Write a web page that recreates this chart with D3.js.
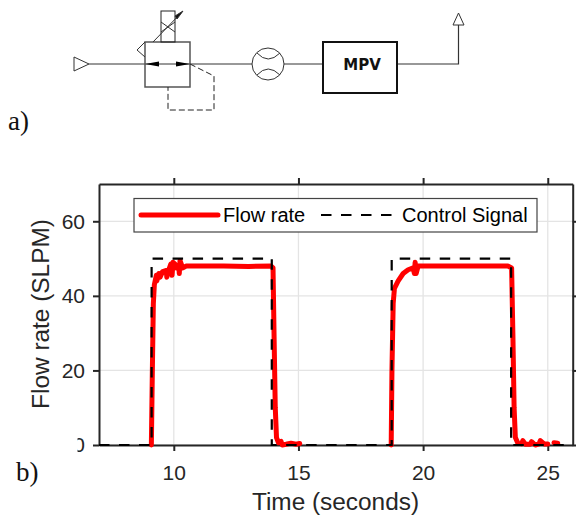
<!DOCTYPE html>
<html>
<head>
<meta charset="utf-8">
<script src="https://cdn.jsdelivr.net/npm/d3@7/dist/d3.min.js"></script>
<style>
  html, body { margin: 0; padding: 0; background: #fff; }
  svg { display: block; }
  text { font-family: "Liberation Sans", Arial, sans-serif; }
  .serif { font-family: "Liberation Serif", "Times New Roman", serif; font-size: 27px; fill: #111; }
</style>
</head>
<body>
<script>
//chart values
var xTicks = [10, 15, 20, 25];
var yTicks = [0, 20, 40, 60];
var xLabel = "Time (seconds)";
var yLabel = "Flow rate (SLPM)";
var legendLabels = ["Flow rate", "Control Signal"];

var controlTime = [7, 9.11, 9.11, 13.93, 13.93, 18.74, 18.74, 23.53, 23.53, 25.9];
var controlValue = [0, 0, 50, 50, 0, 0, 50, 50, 0, 0];

//null ends a stretch of the flow trace
var flowTime = [9.10, 9.14, 9.18, 9.22, 9.30, 9.32, 9.40, 9.45, 9.55, 9.70, 9.72, 9.80, 9.88, 9.93, 9.97, 10.05, 10.10, 10.20, 10.22, 10.25, 10.30, 10.35, 10.50, 11, 12, 13, 13.90, 13.98, 14.02, 14.07, 14.12, 14.20, 14.30, 14.35, 14.50, 14.70, 14.90, 15.05, 15.1,
  18.72, 18.75, 18.80, 18.85, 19, 19.20, 19.40, 19.60, 19.65, 19.68, 19.72, 19.80, 20.50, 22, 23.40, 23.55, 23.60, 23.65, 23.70, 23.80, 23.95, 24, 24.10, 24.30, 24.35, 24.50, 24.65, 24.70, 24.85, 25, 25.1,
  25.25, 25.40];
var flowValue = [0, 20, 38, 43, 45.5, 44, 46, 45, 46.5, 46.8, 45, 47, 48.5, 45.5, 49, 48.5, 47.5, 48, 46, 49.5, 48.5, 47.5, 48, 48, 48, 47.9, 48, 47.5, 30, 10, 2, 0.6, 1, 0, 0.2, 0.5, 0.2, 0.4, null,
  0, 20, 38, 42, 44, 46, 47, 47.5, 46, 49, 46, 48, 48, 48, 48, 47.5, 30, 10, 2, 0.5, 0.3, 1.2, 0.2, 0.2, 0.9, 0, 0.3, 1.2, 0.3, 0.3, null,
  0.6, 0.5];

var svg = d3.select("body").append("svg")
  .attr("width", 576)
  .attr("height", 515);

drawDiagram();
drawChart();

//part a, the flow schematic
function drawDiagram(){
  var g = svg.append("g").attr("fill", "none").attr("stroke", "#333").attr("stroke-width", 1);
  var line = d3.line();

  //pipe runs
  g.append("path").attr("d", line([[89, 64], [252, 64]]));
  g.append("path").attr("d", line([[284, 64], [323, 64]]));
  g.append("path").attr("d", line([[397, 64], [458.5, 64], [458.5, 25]])).attr("stroke-width", 1.2);

  //inlet and outlet triangles
  g.append("path").attr("d", line([[74, 57], [74, 71], [89, 64]]) + "Z").attr("fill", "#fff");
  g.append("path").attr("d", line([[453, 25], [464, 25], [458.5, 13]]) + "Z").attr("fill", "#fff");

  //valve body
  g.append("rect").attr("x", 145).attr("y", 42).attr("width", 45).attr("height", 45)
    .attr("stroke", "#555").attr("stroke-width", 1.5);
  g.append("path").attr("d", line([[145, 42], [137, 50], [145, 57]]));

  //solenoid with its cross and the adjust arrow
  g.append("rect").attr("x", 161).attr("y", 11).attr("width", 14).attr("height", 31)
    .attr("stroke", "#222");
  g.append("path").attr("d", line([[161, 22], [175, 32]]));
  g.append("path").attr("d", line([[161, 32], [175, 22]]));
  g.append("path").attr("d", line([[153, 42], [182, 12]]));
  g.append("path").attr("d", line([[177, 19], [183, 11], [175, 16]]) + "Z")
    .attr("fill", "#111");

  //flow arrows in the valve
  g.append("path").attr("d", line([[145, 64], [159, 61.5], [159, 66.5]]) + "Z")
    .attr("fill", "#000").attr("stroke", "none");
  g.append("path").attr("d", line([[190, 64], [176, 61.5], [176, 66.5]]) + "Z")
    .attr("fill", "#000").attr("stroke", "none");

  //dashed pilot line
  g.append("path").attr("d", line([[190, 64], [214, 76], [214, 110], [168, 110], [168, 87]]))
    .attr("stroke", "#222")
    .attr("stroke-dasharray", "6,3");

  //flow meter
  g.append("circle").attr("cx", 268).attr("cy", 64).attr("r", 16);
  g.append("path").attr("d", "M257,53Q268,65 280,53");
  g.append("path").attr("d", "M257,75Q268,63 280,75");

  //MPV box
  g.append("rect").attr("x", 323).attr("y", 42).attr("width", 74).attr("height", 51)
    .attr("stroke", "#111").attr("stroke-width", 2);
  svg.append("text")
    .attr("x", 362).attr("y", 69.5)
    .attr("text-anchor", "middle")
    .style("font-family", "'DejaVu Sans'")
    .style("font-weight", "bold")
    .style("font-size", "15px")
    .attr("fill", "#111")
    .text("MPV");

  svg.append("text").attr("class", "serif").attr("x", 8).attr("y", 130).text("a)");
}

//part b, the time series
function drawChart(){
  var left = 99, right = 572.7, top = 184, bottom = 445;

  var x = d3.scaleLinear().domain([7, 26]).range([left, right]);
  var y = d3.scaleLinear().domain([0, 70]).range([bottom, top]);

  //grid
  var grid = svg.append("g").attr("stroke", "#e4e4e4").attr("stroke-width", 1.3);
  grid.selectAll(".gx").data(xTicks).enter().append("line")
    .attr("x1", function(d){ return x(d); })
    .attr("x2", function(d){ return x(d); })
    .attr("y1", top).attr("y2", bottom);
  grid.selectAll(".gy").data(yTicks).enter().append("line")
    .attr("x1", left).attr("x2", right)
    .attr("y1", function(d){ return y(d); })
    .attr("y2", function(d){ return y(d); });

  //axes on all four sides, only bottom and left are labelled
  var axes = [
    {axis: d3.axisBottom(x).tickValues(xTicks), at: [0, bottom], labels: true, pad: 14},
    {axis: d3.axisTop(x).tickValues(xTicks), at: [0, top], labels: false, pad: 6},
    {axis: d3.axisLeft(y).tickValues(yTicks), at: [left, 0], labels: true, pad: 8},
    {axis: d3.axisRight(y).tickValues(yTicks), at: [right, 0], labels: false, pad: 6}
  ];
  axes.forEach(function(a){
    a.axis.tickSizeInner(6).tickSizeOuter(0).tickPadding(a.pad);
    if (!a.labels) a.axis.tickFormat("");
    var g = svg.append("g")
      .attr("transform", "translate(" + a.at[0] + "," + a.at[1] + ")")
      .call(a.axis);
    g.select(".domain").attr("stroke", "#262626").attr("stroke-width", 2);
    g.selectAll(".tick line").attr("stroke", "#262626").attr("stroke-width", 2);
    g.selectAll(".tick text")
      .attr("fill", "#262626")
      .style("font-family", "'Liberation Sans'")
      .style("font-size", "21px");
  });

  //the pasted "b)" label has a white patch that cuts the zero label
  svg.append("rect")
    .attr("x", 0).attr("y", 430)
    .attr("width", 77.5).attr("height", 70)
    .attr("fill", "#fff");
  svg.append("text").attr("class", "serif").attr("x", 16).attr("y", 481).text("b)");

  //axis titles
  svg.append("text")
    .attr("x", 335.5).attr("y", 510)
    .attr("text-anchor", "middle")
    .attr("fill", "#262626")
    .style("font-size", "24.4px")
    .text(xLabel);
  svg.append("text")
    .attr("transform", "translate(49,314) rotate(-90)")
    .attr("text-anchor", "middle")
    .attr("fill", "#262626")
    .style("font-size", "24.4px")
    .text(yLabel);

  //flow trace
  var flowLine = d3.line()
    .defined(function(d){ return d[1] !== null; })
    .x(function(d){ return x(d[0]); })
    .y(function(d){ return y(d[1]); });
  svg.append("path")
    .attr("d", flowLine(d3.zip(flowTime, flowValue)))
    .attr("fill", "none")
    .attr("stroke", "#ff0000")
    .attr("stroke-width", 5)
    .attr("stroke-linecap", "round")
    .attr("stroke-linejoin", "round");

  //control signal
  svg.append("path")
    .attr("d", flowLine(d3.zip(controlTime, controlValue)))
    .attr("fill", "none")
    .attr("stroke", "#000")
    .attr("stroke-width", 2.2)
    .attr("stroke-dasharray", "10.5,9.5");

  //legend
  var legend = svg.append("g");
  legend.append("rect")
    .attr("x", 134).attr("y", 198.5)
    .attr("width", 403).attr("height", 33.5)
    .attr("fill", "#fff")
    .attr("stroke", "#444")
    .attr("stroke-width", 1.2);
  legend.append("line")
    .attr("x1", 141).attr("x2", 218).attr("y1", 215).attr("y2", 215)
    .attr("stroke", "#ff0000").attr("stroke-width", 5).attr("stroke-linecap", "round");
  legend.append("line")
    .attr("x1", 321).attr("x2", 392).attr("y1", 215).attr("y2", 215)
    .attr("stroke", "#000").attr("stroke-width", 2.2).attr("stroke-dasharray", "10.5,9.5");
  legend.selectAll("text")
    .data(legendLabels)
    .enter()
    .append("text")
    .attr("x", function(d, i){ return i === 0 ? 223 : 402; })
    .attr("y", 222)
    .attr("fill", "#000")
    .style("font-size", "20px")
    .text(function(d){ return d; });
}
</script>
</body>
</html>
